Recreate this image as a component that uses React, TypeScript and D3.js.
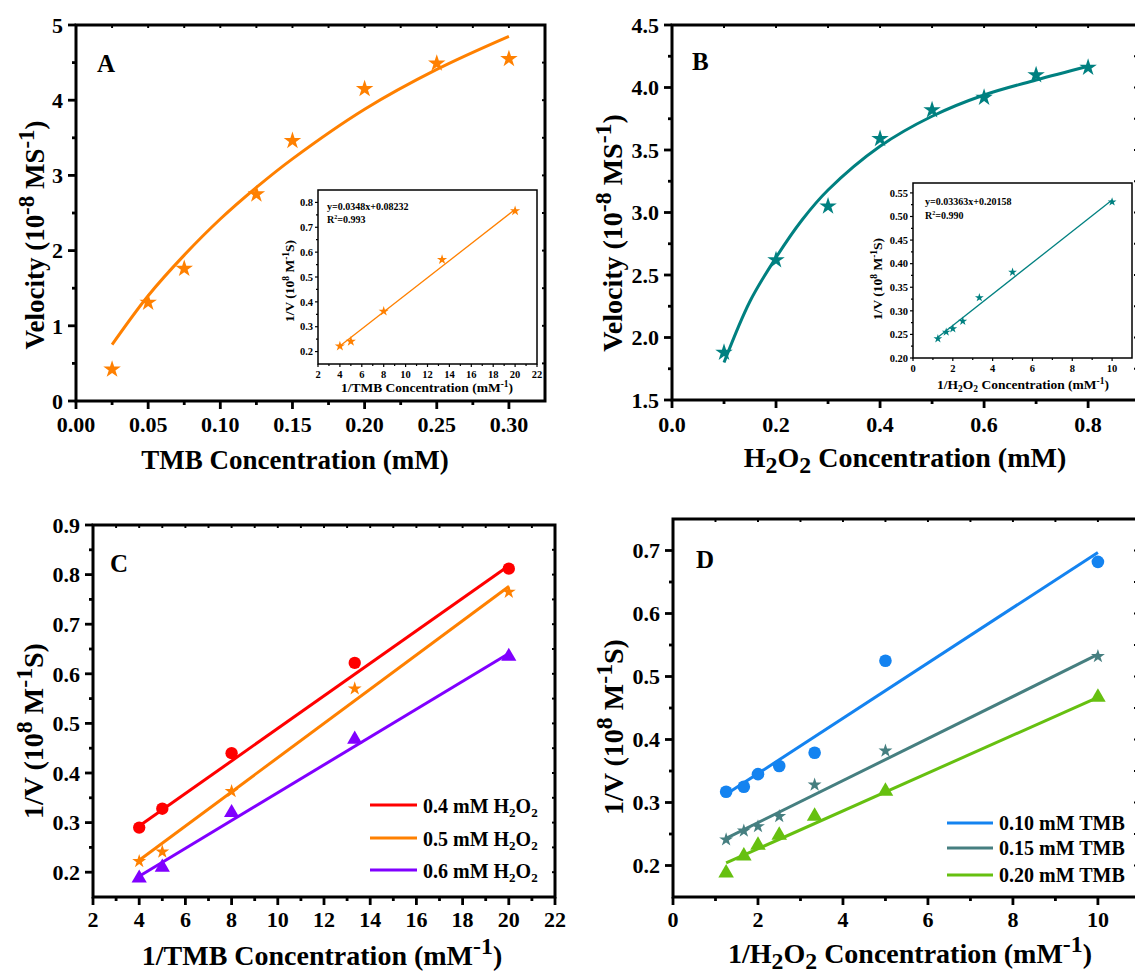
import React, { useEffect, useRef } from 'react'
import * as d3 from 'd3'

const FONT = '"Liberation Serif", "Times New Roman", Times, serif'

// ---- panel A : velocity vs TMB
const tmbConc = [0.025, 0.05, 0.075, 0.125, 0.15, 0.2, 0.25, 0.3]
const tmbVel = [0.42, 1.31, 1.76, 2.75, 3.46, 4.15, 4.49, 4.55]
const tmbFitConc = [0.025, 0.05, 0.075, 0.1, 0.125, 0.15, 0.2, 0.25, 0.3]
const tmbFitVel = [0.75, 1.4, 1.94, 2.42, 2.84, 3.22, 3.88, 4.41, 4.85]
// inset A : double reciprocal
const tmbInv = [4, 5, 8, 13.33, 20]
const tmbInvV = [0.222, 0.241, 0.362, 0.57, 0.766]
const tmbInvFitX = [4, 20]
const tmbInvFitY = [0.222, 0.772]

// ---- panel B : velocity vs H2O2
const h2o2Conc = [0.1, 0.2, 0.3, 0.4, 0.5, 0.6, 0.7, 0.8]
const h2o2Vel = [1.88, 2.62, 3.05, 3.59, 3.82, 3.92, 4.1, 4.16]
const h2o2FitConc = [0.1, 0.15, 0.2, 0.25, 0.3, 0.4, 0.5, 0.6, 0.7, 0.8]
const h2o2FitVel = [1.8, 2.29, 2.64, 2.94, 3.18, 3.53, 3.77, 3.94, 4.06, 4.17]
// inset B
const h2o2Inv = [1.25, 1.667, 2, 2.5, 3.333, 5, 10]
const h2o2InvV = [0.241, 0.255, 0.262, 0.278, 0.328, 0.382, 0.531]
const h2o2InvFitX = [1.25, 10]
const h2o2InvFitY = [0.244, 0.535]

// ---- panel C : 1/V vs 1/TMB at three H2O2 levels
const cX = [4, 5, 8, 13.33, 20]
const cH04 = [0.29, 0.328, 0.44, 0.622, 0.812]
const cH05 = [0.222, 0.241, 0.363, 0.57, 0.765]
const cH06 = [0.188, 0.21, 0.32, 0.468, 0.635]
const cFitX = [4, 20]
const cFitH04 = [0.293, 0.818]
const cFitH05 = [0.224, 0.776]
const cFitH06 = [0.192, 0.641]

// ---- panel D : 1/V vs 1/H2O2 at three TMB levels
const dX = [1.25, 1.667, 2, 2.5, 3.333, 5, 10]
const dT010 = [0.317, 0.325, 0.345, 0.358, 0.379, 0.525, 0.682]
const dT015 = [0.241, 0.255, 0.262, 0.278, 0.328, 0.382, 0.532]
const dT020 = [0.188, 0.215, 0.232, 0.248, 0.278, 0.318, 0.467]
const dFitX = [1.25, 10]
const dFitT010 = [0.313, 0.697]
const dFitT015 = [0.243, 0.535]
const dFitT020 = [0.204, 0.467]

// tick values
const aXTicks = [0, 0.05, 0.1, 0.15, 0.2, 0.25, 0.3]
const aYTicks = [0, 1, 2, 3, 4, 5]
const bXTicks = [0, 0.2, 0.4, 0.6, 0.8]
const bYTicks = [1.5, 2, 2.5, 3, 3.5, 4, 4.5]
const cXTicks = [2, 4, 6, 8, 10, 12, 14, 16, 18, 20, 22]
const cYTicks = [0.2, 0.3, 0.4, 0.5, 0.6, 0.7, 0.8, 0.9]
const dXTicks = [0, 2, 4, 6, 8, 10]
const dYTicks = [0.2, 0.3, 0.4, 0.5, 0.6, 0.7]
const iaXTicks = [2, 4, 6, 8, 10, 12, 14, 16, 18, 20, 22]
const iaYTicks = [0.2, 0.3, 0.4, 0.5, 0.6, 0.7, 0.8]
const ibXTicks = [0, 2, 4, 6, 8, 10]
const ibYTicks = [0.2, 0.25, 0.3, 0.35, 0.4, 0.45, 0.5, 0.55]

const ORANGE = '#ff8000'
const TEAL = '#008080'

type Part = { t: string; s?: 'sup' | 'sub' }

const rich = (text: any, parts: Part[], size: number, scale = 0.8) => {
  let cur = 0
  parts.forEach(p => {
    const off = p.s === 'sup' ? -0.38 * size : p.s === 'sub' ? 0.2 * size : 0
    const span = text.append('tspan').attr('dy', off - cur).text(p.t)
    if (p.s) span.attr('font-size', size * scale)
    cur = off
  })
}

const minorsOf = (ticks: number[], domain: number[]) => {
  const step = ticks[1] - ticks[0]
  const out: number[] = []
  const lo = Math.min(domain[0], domain[1])
  const hi = Math.max(domain[0], domain[1])
  ;[ticks[0] - step / 2, ...ticks.map(t => t + step / 2)].forEach(v => {
    if (v > lo + 1e-9 && v < hi - 1e-9) out.push(v)
  })
  return out
}

const drawPanel = (svg: any, p: any) => {
  const g = svg.append('g')
  const x = d3.scaleLinear().domain(p.xDomain).range([p.l, p.r])
  const y = d3.scaleLinear().domain(p.yDomain).range([p.b, p.t])
  g.append('rect')
    .attr('x', p.l).attr('y', p.t).attr('width', p.r - p.l).attr('height', p.b - p.t)
    .attr('fill', '#fff')
  const tick = (x1: number, y1: number, x2: number, y2: number, w: number) =>
    g.append('line').attr('x1', x1).attr('y1', y1).attr('x2', x2).attr('y2', y2)
      .attr('stroke', '#000').attr('stroke-width', w)

  const xMinor = minorsOf(p.xTicks, p.xDomain)
  const yMinor = minorsOf(p.yTicks, p.yDomain)
  p.xTicks.forEach((v: number) => tick(x(v), p.b, x(v), p.b + p.major, p.tickW))
  xMinor.forEach((v: number) => tick(x(v), p.b, x(v), p.b + p.minor, p.tickW))
  p.yTicks.forEach((v: number) => tick(p.l, y(v), p.l - p.major, y(v), p.tickW))
  yMinor.forEach((v: number) => tick(p.l, y(v), p.l - p.minor, y(v), p.tickW))
  if (p.inner) {
    ;[...p.xTicks, ...xMinor].forEach((v: number) => tick(x(v), p.t, x(v), p.t + p.inner, p.tickW * 0.7))
    ;[...p.yTicks, ...yMinor].forEach((v: number) => tick(p.r, y(v), p.r - p.inner, y(v), p.tickW * 0.7))
  }
  g.append('rect')
    .attr('x', p.l).attr('y', p.t).attr('width', p.r - p.l).attr('height', p.b - p.t)
    .attr('fill', 'none').attr('stroke', '#000').attr('stroke-width', p.frameW)

  const fx = d3.format(p.xFmt)
  const fy = d3.format(p.yFmt)
  g.selectAll('.xl').data(p.xTicks).enter().append('text')
    .attr('x', (d: number) => x(d)).attr('y', p.b + p.xLabOff)
    .attr('text-anchor', 'middle').attr('font-size', p.tickFont).attr('font-weight', 'bold')
    .text((d: number) => fx(d))
  g.selectAll('.yl').data(p.yTicks).enter().append('text')
    .attr('x', p.l - p.yLabOff).attr('y', (d: number) => y(d)).attr('dy', '0.35em')
    .attr('text-anchor', 'end').attr('font-size', p.tickFont).attr('font-weight', 'bold')
    .text((d: number) => fy(d))

  const xt = g.append('text').attr('x', p.xTitle[0]).attr('y', p.xTitle[1])
    .attr('text-anchor', 'middle').attr('font-size', p.titleFont).attr('font-weight', 'bold')
  rich(xt, p.xTitleParts, p.titleFont, p.scriptScale)
  const yt = g.append('text')
    .attr('transform', `translate(${p.yTitle[0]},${p.yTitle[1]}) rotate(-90)`)
    .attr('text-anchor', 'middle').attr('font-size', p.yTitleFont || p.titleFont).attr('font-weight', 'bold')
  rich(yt, p.yTitleParts, p.yTitleFont || p.titleFont, p.scriptScale)
  return { g, x, y }
}

const symbols: any = { star: d3.symbolStar, circle: d3.symbolCircle, triangle: d3.symbolTriangle }

const drawMarks = (g: any, x: any, y: any, xs: number[], ys: number[], shape: string, size: number, color: string) => {
  const sym = d3.symbol().type(symbols[shape]).size(size)
  g.selectAll(null).data(xs.map((v, i) => [v, ys[i]])).enter().append('path')
    .attr('d', sym)
    .attr('transform', (d: number[]) => `translate(${x(d[0])},${y(d[1])})`)
    .attr('fill', color)
}

const drawLine = (g: any, x: any, y: any, xs: number[], ys: number[], color: string, w: number, smooth = false) => {
  const line = d3.line<number[]>().x(d => x(d[0])).y(d => y(d[1]))
  if (smooth) line.curve(d3.curveCatmullRom)
  g.append('path').datum(xs.map((v, i) => [v, ys[i]])).attr('d', line)
    .attr('fill', 'none').attr('stroke', color).attr('stroke-width', w)
}

const letter = (svg: any, s: string, xPos: number, yPos: number) =>
  svg.append('text').attr('x', xPos).attr('y', yPos).attr('font-size', 25)
    .attr('font-weight', 'bold').text(s)

const mainStyle = {
  major: 8, minor: 4, tickW: 2.8, frameW: 3, inner: 3, tickFont: 22,
  xLabOff: 31, yLabOff: 13, titleFont: 28, scriptScale: 0.85
}
const insetStyle = {
  major: 3, minor: 2, tickW: 1.2, frameW: 1.5, inner: 0, tickFont: 10.5,
  xLabOff: 14, yLabOff: 5, titleFont: 13.5, scriptScale: 0.7
}

const legend = (g: any, items: any[], x0: number, x1: number, ys: number[], tx: number, base: number, size: number) => {
  items.forEach((it, i) => {
    g.append('line').attr('x1', x0).attr('x2', x1).attr('y1', ys[i]).attr('y2', ys[i])
      .attr('stroke', it.color).attr('stroke-width', 3)
    const t = g.append('text').attr('x', tx).attr('y', ys[i] + base)
      .attr('font-size', size).attr('font-weight', 'bold')
    rich(t, it.parts, size, 0.65)
  })
}

export default function App() {
  const ref = useRef<SVGSVGElement>(null)
  useEffect(() => {
    const svg = d3.select(ref.current)
    svg.selectAll('*').remove()
    svg.append('rect').attr('width', 1135).attr('height', 975).attr('fill', '#fff')

    // ---------- A
    const A = drawPanel(svg, {
      ...mainStyle, l: 76, r: 545, t: 25, b: 401, xDomain: [0, 0.325], yDomain: [0, 5],
      xTicks: aXTicks, yTicks: aYTicks, xFmt: '.2f', yFmt: 'd', titleFont: 27,
      xTitle: [295, 469], xTitleParts: [{ t: 'TMB Concentration (mM)' }],
      yTitle: [44, 235], yTitleParts: [{ t: 'Velocity (10' }, { t: '-8', s: 'sup' }, { t: ' MS' }, { t: '-1', s: 'sup' }, { t: ')' }]
    })
    drawLine(A.g, A.x, A.y, tmbFitConc, tmbFitVel, ORANGE, 3, true)
    drawMarks(A.g, A.x, A.y, tmbConc, tmbVel, 'star', 95, ORANGE)
    letter(svg, 'A', 97, 72)

    const IA = drawPanel(svg, {
      ...insetStyle, l: 318, r: 537, t: 190, b: 364, xDomain: [2, 22], yDomain: [0.15, 0.85],
      xTicks: iaXTicks, yTicks: iaYTicks, xFmt: 'd', yFmt: '.1f',
      xTitle: [427, 392], xTitleParts: [{ t: '1/TMB Concentration (mM' }, { t: '-1', s: 'sup' }, { t: ')' }],
      yTitle: [294, 281], yTitleParts: [{ t: '1/V (10' }, { t: '8', s: 'sup' }, { t: ' M' }, { t: '-1', s: 'sup' }, { t: 'S)' }]
    })
    drawLine(IA.g, IA.x, IA.y, tmbInvFitX, tmbInvFitY, ORANGE, 1.3)
    drawMarks(IA.g, IA.x, IA.y, tmbInv, tmbInvV, 'star', 32, ORANGE)
    const eqA = IA.g.append('text').attr('x', 327).attr('y', 210).attr('font-size', 10).attr('font-weight', 'bold')
    rich(eqA, [{ t: 'y=0.0348x+0.08232' }], 10)
    const rA = IA.g.append('text').attr('x', 327).attr('y', 223).attr('font-size', 10).attr('font-weight', 'bold')
    rich(rA, [{ t: 'R' }, { t: '2', s: 'sup' }, { t: '=0.993' }], 10, 0.6)

    // ---------- B
    const B = drawPanel(svg, {
      ...mainStyle, l: 672, r: 1137, t: 25, b: 400, xDomain: [0, 0.894], yDomain: [1.5, 4.5],
      xTicks: bXTicks, yTicks: bYTicks, xFmt: '.1f', yFmt: '.1f', xLabOff: 32,
      xTitle: [905, 467], xTitleParts: [{ t: 'H' }, { t: '2', s: 'sub' }, { t: 'O' }, { t: '2', s: 'sub' }, { t: ' Concentration (mM)' }],
      yTitle: [622, 233], yTitleParts: [{ t: 'Velocity (10' }, { t: '-8', s: 'sup' }, { t: ' MS' }, { t: '-1', s: 'sup' }, { t: ')' }]
    })
    drawLine(B.g, B.x, B.y, h2o2FitConc, h2o2FitVel, TEAL, 3, true)
    drawMarks(B.g, B.x, B.y, h2o2Conc, h2o2Vel, 'star', 95, TEAL)
    letter(svg, 'B', 692, 70)

    const IB = drawPanel(svg, {
      ...insetStyle, l: 913, r: 1132, t: 183, b: 358, xDomain: [0, 11], yDomain: [0.2, 0.571],
      xTicks: ibXTicks, yTicks: ibYTicks, xFmt: 'd', yFmt: '.2f',
      xTitle: [1023, 389], xTitleParts: [{ t: '1/H' }, { t: '2', s: 'sub' }, { t: 'O' }, { t: '2', s: 'sub' }, { t: ' Concentration (mM' }, { t: '-1', s: 'sup' }, { t: ')' }],
      yTitle: [882, 279], yTitleParts: [{ t: '1/V (10' }, { t: '8', s: 'sup' }, { t: ' M' }, { t: '-1', s: 'sup' }, { t: 'S)' }]
    })
    drawLine(IB.g, IB.x, IB.y, h2o2InvFitX, h2o2InvFitY, TEAL, 1.3)
    drawMarks(IB.g, IB.x, IB.y, h2o2Inv, h2o2InvV, 'star', 24, TEAL)
    const eqB = IB.g.append('text').attr('x', 925).attr('y', 205).attr('font-size', 10).attr('font-weight', 'bold')
    rich(eqB, [{ t: 'y=0.03363x+0.20158' }], 10)
    const rB = IB.g.append('text').attr('x', 925).attr('y', 219).attr('font-size', 10).attr('font-weight', 'bold')
    rich(rB, [{ t: 'R' }, { t: '2', s: 'sup' }, { t: '=0.990' }], 10, 0.6)

    // ---------- C
    const C = drawPanel(svg, {
      ...mainStyle, l: 93, r: 555, t: 525, b: 897, xDomain: [2, 22], yDomain: [0.15, 0.9],
      xTicks: cXTicks, yTicks: cYTicks, xFmt: 'd', yFmt: '.1f', xLabOff: 30,
      xTitle: [322, 965], xTitleParts: [{ t: '1/TMB Concentration (mM' }, { t: '-1', s: 'sup' }, { t: ')' }],
      yTitle: [43, 731], yTitleParts: [{ t: '1/V (10' }, { t: '8', s: 'sup' }, { t: ' M' }, { t: '-1', s: 'sup' }, { t: 'S)' }]
    })
    const seriesC = [
      { ys: cH04, fit: cFitH04, color: '#ff0000', shape: 'circle', size: 120, parts: [{ t: '0.4 mM H' }, { t: '2', s: 'sub' }, { t: 'O' }, { t: '2', s: 'sub' }] },
      { ys: cH05, fit: cFitH05, color: ORANGE, shape: 'star', size: 60, parts: [{ t: '0.5 mM H' }, { t: '2', s: 'sub' }, { t: 'O' }, { t: '2', s: 'sub' }] },
      { ys: cH06, fit: cFitH06, color: '#8000ff', shape: 'triangle', size: 100, parts: [{ t: '0.6 mM H' }, { t: '2', s: 'sub' }, { t: 'O' }, { t: '2', s: 'sub' }] }
    ]
    seriesC.forEach(s => {
      drawLine(C.g, C.x, C.y, cFitX, s.fit, s.color, 3)
      drawMarks(C.g, C.x, C.y, cX, s.ys, s.shape, s.size, s.color)
    })
    legend(C.g, seriesC, 370, 417, [805, 838, 870], 423, 8, 20)
    letter(svg, 'C', 110, 572)

    // ---------- D
    const D = drawPanel(svg, {
      ...mainStyle, l: 673, r: 1137, t: 519, b: 897, xDomain: [0, 10.92], yDomain: [0.15, 0.75],
      xTicks: dXTicks, yTicks: dYTicks, xFmt: 'd', yFmt: '.1f', xLabOff: 30,
      xTitle: [910, 963], xTitleParts: [{ t: '1/H' }, { t: '2', s: 'sub' }, { t: 'O' }, { t: '2', s: 'sub' }, { t: ' Concentration (mM' }, { t: '-1', s: 'sup' }, { t: ')' }],
      yTitle: [623, 727], yTitleParts: [{ t: '1/V (10' }, { t: '8', s: 'sup' }, { t: ' M' }, { t: '-1', s: 'sup' }, { t: 'S)' }]
    })
    const seriesD = [
      { ys: dT010, fit: dFitT010, color: '#1483f0', shape: 'circle', size: 125, parts: [{ t: '0.10 mM TMB' }] },
      { ys: dT015, fit: dFitT015, color: '#467f80', shape: 'star', size: 60, parts: [{ t: '0.15 mM TMB' }] },
      { ys: dT020, fit: dFitT020, color: '#66c010', shape: 'triangle', size: 105, parts: [{ t: '0.20 mM TMB' }] }
    ]
    seriesD.forEach(s => {
      drawLine(D.g, D.x, D.y, dFitX, s.fit, s.color, 3)
      drawMarks(D.g, D.x, D.y, dX, s.ys, s.shape, s.size, s.color)
    })
    legend(D.g, seriesD, 947, 993, [823, 848, 875], 999, 7, 20)
    letter(svg, 'D', 696, 568)
  }, [])

  return (
    <svg
      ref={ref}
      width={1135}
      height={975}
      fontFamily={FONT}
      style={{ position: 'absolute', left: 0, top: 0, display: 'block' }}
    />
  )
}
